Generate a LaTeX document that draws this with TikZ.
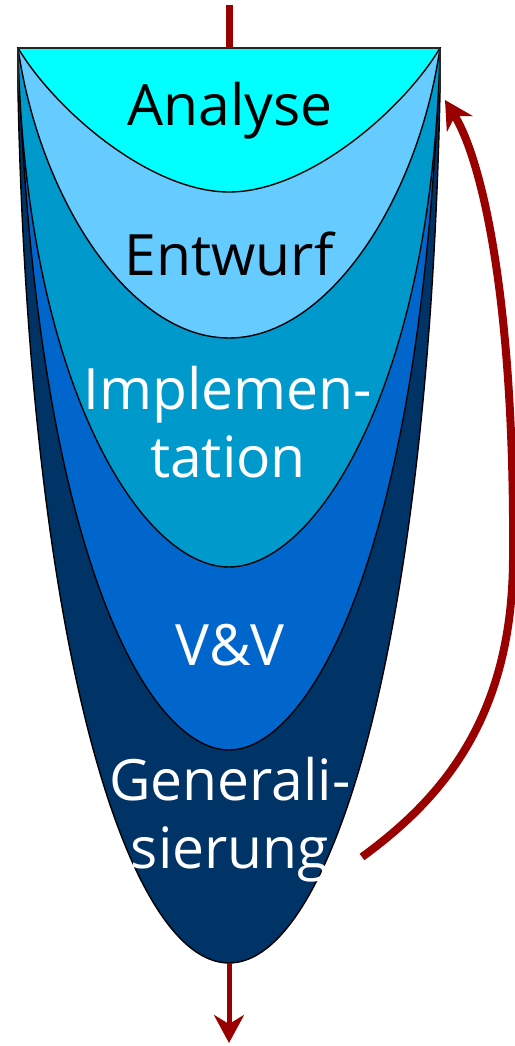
\documentclass[tikz,border=0pt]{standalone}
\usepackage{fontspec}
\setmainfont{Open Sans}
\usetikzlibrary{arrows.meta}
\definecolor{darkred}{HTML}{990000}
\definecolor{genblue}{HTML}{003366}
\definecolor{vvblue}{HTML}{0066CC}
\definecolor{implblue}{HTML}{0099CC}
\definecolor{entblue}{HTML}{66CCFF}
\definecolor{anacyan}{HTML}{00FFFF}
\tikzset{
  bowl/.style={draw=black, line width=1.4pt},
  rim/.style={draw=black!85, line width=2pt},
  flow/.style={draw=darkred, line width=5pt},
  headtip/.style={-{Stealth[length=28pt, width=30pt, inset=9pt]}},
  phase/.style={anchor=base, align=center, inner sep=0pt, font=\fontsize{57}{68}\selectfont}
}
\begin{document}
\begin{tikzpicture}[x=1pt,y=-1pt]
\useasboundingbox (0,0) rectangle (514,1046);

% bowls, outermost first
\foreach \t/\ax/\ay/\bx/\b/\c in {93/30/660/130/963/genblue, 48/35/560/150/750/vvblue, 48/25/380/140/567/implblue, 48/40/200/130/338/entblue, 48/55/110/150/192/anacyan}
  {\filldraw[bowl, fill=\c] (18,48) -- (18,\t) .. controls (\ax,\ay) and (\bx,\b) .. (229,\b) .. controls (458-\bx,\b) and (458-\ax,\ay) .. (440,\t) -- (440,48) -- cycle;}
\draw[rim] (18,48) -- (440,48);
\draw[rim] (18,48) -- (18,93);
\draw[rim] (440,48) -- (440,93);

\node[phase] (ana) at (230,125) {Analyse};
\node[phase] (ent) at (229,275) {Entwurf};
\node[phase, text=white] (impl) at (228,477) {Implemen-\\tation};
\node[phase, text=white] (vv) at (230,665) {V\&V};
\node[phase, text=white] (gen) at (230,868) {Generali-\\sierung};

\coordinate (in) at (229,5);
\coordinate (lip) at (229,48);
\coordinate (bottom) at (229,963);
\coordinate (out) at (229,1043);
\coordinate (back) at (362,857);
\coordinate (reentry) at (445,100);

\draw[flow, line width=7pt] (in) -- (lip);
\draw[flow, headtip] (bottom) -- (out);
\draw[flow, line width=8pt, headtip] (back) .. controls (440,800) and (512,720) .. (513,560) .. controls (515,300) and (482,160) .. (reentry);

\end{tikzpicture}
\end{document}
